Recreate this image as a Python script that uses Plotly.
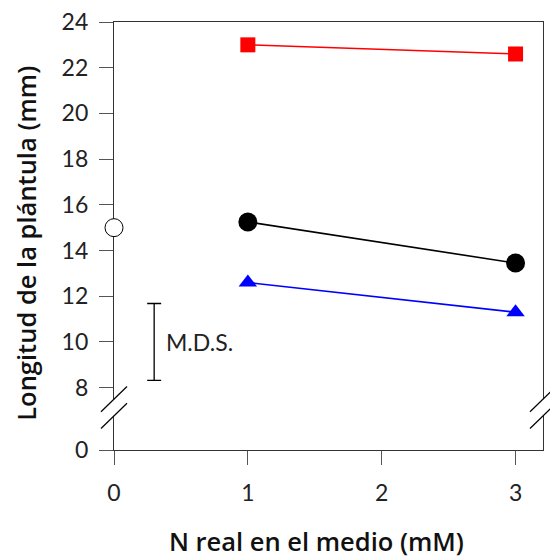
import plotly.graph_objects as go

# N concentration in the medium (mM) and seedling length (mm)
n_levels = [1, 3]
len_red = [23.0, 22.6]
len_black = [15.25, 13.45]
len_blue = [12.6, 11.3]

# control without nitrogen
control_x = [0]
control_y = [15.0]

# minimum significant difference bar
mds_x = [0.3]
mds_center = [10.0]
mds_value = 3.36

# y axis is broken: everything below 8 is collapsed, "0" sits at the bottom
Y_BOTTOM = 5.27
Y_TOP = 24
X_MAX = 3.205
ytick_vals = [Y_BOTTOM, 8, 10, 12, 14, 16, 18, 20, 22, 24]
ytick_text = ["0", "8", "10", "12", "14", "16", "18", "20", "22", "24"]
xtick_vals = [0, 1, 2, 3]
xtick_text = ["0", "1", "2", "3"]
BREAK_Y = 7.13

TICK_FONT = dict(family="Lato", size=23, color="#222")
TITLE_FONT = dict(family="Open Sans", size=25.5, color="#111", weight=600)
AXIS_COLOR = "#333"

fig = go.Figure()

fig.add_trace(go.Scatter(
    x=n_levels, y=len_red, mode="lines+markers",
    line=dict(color="#ff0000", width=1.6),
    marker=dict(symbol="square", size=15, color="#ff0000"),
    cliponaxis=False, showlegend=False))
fig.add_trace(go.Scatter(
    x=n_levels, y=len_black, mode="lines+markers",
    line=dict(color="#000000", width=1.6),
    marker=dict(symbol="circle", size=19, color="#000000"),
    cliponaxis=False, showlegend=False))
fig.add_trace(go.Scatter(
    x=n_levels, y=len_blue, mode="lines+markers",
    line=dict(color="#0000ff", width=1.6),
    marker=dict(symbol="triangle-up", size=16, color="#0000ff"),
    cliponaxis=False, showlegend=False))
fig.add_trace(go.Scatter(
    x=control_x, y=control_y, mode="markers",
    marker=dict(symbol="circle", size=18, color="white",
                line=dict(color="black", width=1)),
    cliponaxis=False, showlegend=False))
fig.add_trace(go.Scatter(
    x=mds_x, y=mds_center, mode="markers",
    marker=dict(size=1, color="rgba(0,0,0,0)"),
    error_y=dict(type="constant", value=mds_value / 2, color="black",
                 thickness=1.3, width=7),
    showlegend=False, hoverinfo="skip"))

fig.add_annotation(x=mds_x[0], y=mds_center[0], xref="x", yref="y",
                   text="M.D.S.", showarrow=False, xanchor="left",
                   xshift=10, font=dict(family="Lato", size=23, color="#222"))

# axis titles
fig.add_annotation(x=0.471, y=-0.213, xref="paper", yref="paper",
                   text="N real en el medio (mM)", showarrow=False,
                   xanchor="center", yanchor="middle", font=TITLE_FONT)
fig.add_annotation(x=-0.205, y=0.482, xref="paper", yref="paper",
                   text="Longitud de la plántula (mm)", showarrow=False,
                   textangle=-90, xanchor="center", yanchor="middle",
                   font=TITLE_FONT)

# axis break marks on both vertical sides (paper x so they are not clipped)
for xa in (0, 1):
    fig.add_shape(type="line", xref="paper", yref="y", layer="above",
                  xsizemode="pixel", ysizemode="pixel",
                  xanchor=xa, yanchor=BREAK_Y,
                  x0=0, x1=0, y0=-8.4, y1=8.4,
                  line=dict(color="white", width=4))
    for y0, y1 in ((-4.3, 21), (-21, 4.3)):
        fig.add_shape(type="line", xref="paper", yref="y", layer="above",
                      xsizemode="pixel", ysizemode="pixel",
                      xanchor=xa, yanchor=BREAK_Y,
                      x0=-13, x1=13, y0=y0, y1=y1,
                      line=dict(color="black", width=1.2))

fig.update_xaxes(range=[0, X_MAX], tickvals=xtick_vals, ticktext=xtick_text,
                 ticks="outside", ticklen=14, tickwidth=1.2, tickcolor="#555",
                 showline=True, linecolor=AXIS_COLOR, linewidth=1.2, mirror=True,
                 showgrid=False, zeroline=False, tickfont=TICK_FONT,
                 ticklabelstandoff=8, layer="below traces")
fig.update_yaxes(range=[Y_BOTTOM, Y_TOP], tickvals=ytick_vals, ticktext=ytick_text,
                 ticks="outside", ticklen=14, tickwidth=1.2, tickcolor="#555",
                 showline=True, linecolor=AXIS_COLOR, linewidth=1.2, mirror=True,
                 showgrid=False, zeroline=False, tickfont=TICK_FONT,
                 ticklabelstandoff=6, layer="below traces")

fig.update_layout(width=550, height=557,
                  margin=dict(l=114, r=7, t=22, b=107),
                  plot_bgcolor="white", paper_bgcolor="white")

fig.write_html("out.html")
